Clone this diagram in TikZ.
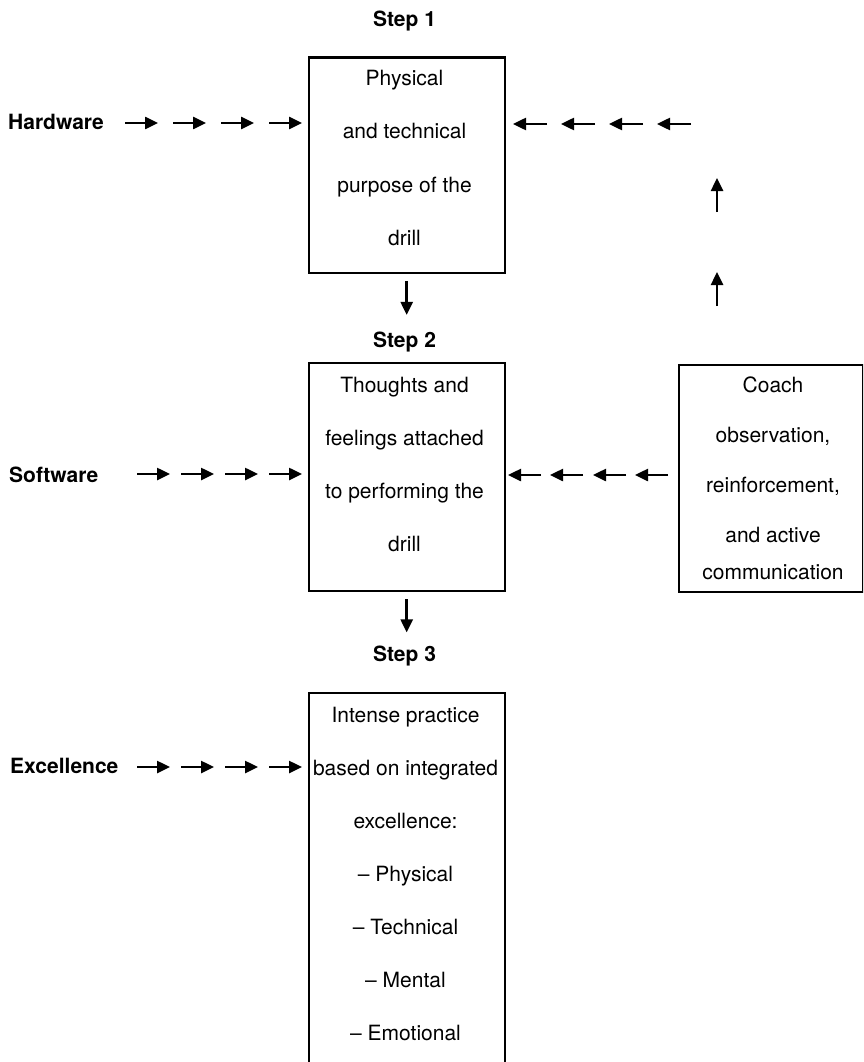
\documentclass[tikz,border=0pt]{standalone}
\usepackage{fontspec}
\setmainfont{TeX Gyre Heros}
\usetikzlibrary{arrows.meta}
\begin{document}
\begin{tikzpicture}[x=1pt,y=-1pt,
  box/.style={draw=black, line width=2.4pt, rectangle, inner sep=0pt, anchor=north west},
  txt/.style={font=\fontsize{21}{25}\selectfont, inner sep=0pt, anchor=base},
  lbl/.style={font=\fontsize{21}{25}\selectfont\bfseries, inner sep=0pt, anchor=base},
  side/.style={lbl, anchor=base west},
  arr/.style={line width=2.5pt, -{Triangle[length=13pt,width=12pt]}},
]
\useasboundingbox (0,0) rectangle (863,1062);
\clip (0,0) rectangle (863,1062);

% step headings
\node[lbl] (s1) at (404.5,27) {Step 1};
\node[lbl] (s2) at (404.5,347) {Step 2};
\node[lbl] (s3) at (404.5,661) {Step 3};

% row labels
\node[side] (hw) at (8,129) {Hardware};
\node[side] (sw) at (9,482) {Software};
\node[side] (ex) at (10,773) {Excellence};

% boxes
\node[box, minimum width=196pt, minimum height=215pt] (b1) at (307.5,56.5) {};
\node[box, minimum width=196pt, minimum height=228pt] (b2) at (307.5,362) {};
\node[box, minimum width=184pt, minimum height=227pt] (b4) at (677.5,364) {};
\node[box, minimum width=196pt, minimum height=400pt] (b3) at (307.5,692) {};

% box texts
\foreach \t [count=\i] in {Physical, and technical, purpose of the, drill}
  \node[txt] (b1l\i) at (404.5,{86+53*(\i-1)}) {\t};
\foreach \t [count=\i] in {Thoughts and, feelings attached, to performing the, drill}
  \node[txt] (b2l\i) at (404.5,{392+53*(\i-1)}) {\t};
\foreach \t/\y [count=\i] in {Coach/392, {observation,}/442, {reinforcement,}/492, and active/542, communication/579}
  \node[txt] (b4l\i) at (773,\y) {\t};
\foreach \t [count=\i] in {Intense practice, based on integrated, excellence:, -- Physical, -- Technical, -- Mental, -- Emotional}
  \node[txt] (b3l\i) at (405.5,{722+53*(\i-1)}) {\t};

% arrows into the boxes from the left
\foreach \s [count=\k] in {125,173,221,269}{
  \coordinate (ha\k) at (\s,123);
  \coordinate (hb\k) at ({\s+33},123);
  \draw[arr] (ha\k) -- (hb\k);
}
\foreach \s [count=\k] in {137,181,225,269}{
  \coordinate (sa\k) at (\s,474);
  \coordinate (sb\k) at ({\s+33},474);
  \draw[arr] (sa\k) -- (sb\k);
  \coordinate (ea\k) at (\s,767);
  \coordinate (eb\k) at ({\s+33},767);
  \draw[arr] (ea\k) -- (eb\k);
}

% feedback from the coach: left along row 2, up, and back left into step 1
\foreach \s [count=\k] in {508,550,593,635}{
  \coordinate (ca\k) at ({\s+33},475);
  \coordinate (cb\k) at (\s,475);
  \draw[arr] (ca\k) -- (cb\k);
}
\foreach \s [count=\k] in {272,178}{
  \coordinate (ua\k) at (717,{\s+34});
  \coordinate (ub\k) at (717,\s);
  \draw[arr] (ua\k) -- (ub\k);
}
\foreach \s [count=\k] in {513,561,609,657}{
  \coordinate (ra\k) at ({\s+34},124);
  \coordinate (rb\k) at (\s,124);
  \draw[arr] (ra\k) -- (rb\k);
}

% step to step
\draw[arr] ([yshift=-7pt]b1.south) -- ([yshift=-41pt]b1.south);
\draw[arr] ([yshift=-7pt]b2.south) -- ([yshift=-40pt]b2.south);
\end{tikzpicture}
\end{document}
